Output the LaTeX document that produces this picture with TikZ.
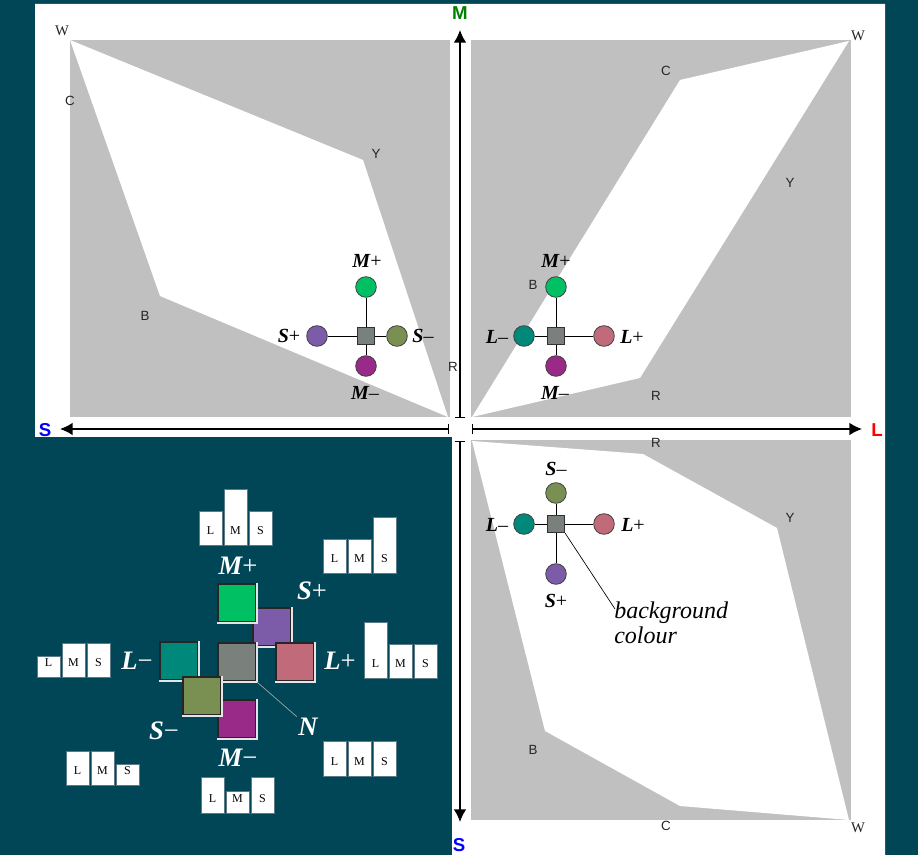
\documentclass[tikz,border=0pt]{standalone}
\usepackage{fontspec}
\setmainfont{Liberation Serif}
\setsansfont{Liberation Sans}
\usetikzlibrary{arrows.meta}
\definecolor{deepteal}{RGB}{0,70,86}
\definecolor{panelgray}{RGB}{192,192,192}
\definecolor{cMp}{RGB}{0,192,100}
\definecolor{cMm}{RGB}{153,42,136}
\definecolor{cSp}{RGB}{124,92,168}
\definecolor{cSm}{RGB}{122,144,82}
\definecolor{cLm}{RGB}{0,136,122}
\definecolor{cLp}{RGB}{192,106,122}
\definecolor{cN}{RGB}{122,128,124}
\definecolor{axisgreen}{RGB}{0,128,0}
\definecolor{barline}{RGB}{90,122,136}
\begin{document}
\begin{tikzpicture}[x=0.75pt,y=-0.75pt,
  axis/.style={line width=1.1pt,{Bar[width=8pt,line width=0.8pt]}-{Latex[length=9.5pt,width=9.5pt]}},
  axlab/.style={font=\sffamily\bfseries\fontsize{14}{16}\selectfont,inner sep=0pt},
  corner/.style={font=\sffamily\fontsize{10}{12}\selectfont,text=black!85,inner sep=0pt},
  dot/.style={circle,draw=black!75,line width=0.6pt,minimum size=15.5pt,inner sep=0pt},
  ctr/.style={rectangle,draw=black!80,line width=0.6pt,fill=cN,minimum size=13pt,inner sep=0pt},
  spoke/.style={line width=0.7pt},
  pole/.style={font=\fontsize{15}{17}\selectfont,inner sep=0pt},
  bigpole/.style={font=\fontsize{20}{22}\selectfont,text=white,inner sep=0pt},
  legsq/.style={rectangle,draw=black!85,line width=1.3pt,minimum size=29pt,inner sep=0pt},
  litedge/.style={draw=gray!20,line width=1.3pt},
  barbox/.style={fill=white,draw=barline,line width=0.6pt},
  bartext/.style={font=\fontsize{9}{10}\selectfont,inner sep=0pt}]
  \newcommand{\poleLab}[2]{{\bfseries\itshape #1}#2}
  \newcommand{\lmsBars}[6]{
    \foreach \c/\h [count=\i from 0] in {L/#4,M/#5,S/#6}{
      \filldraw[barbox] (#2+25*\i,#3) rectangle ++(23,-\h);
      \node[bartext] (#1\c) at (#2+25*\i+11.5,#3-14) {\c};
    }
  }
  \useasboundingbox (0,0) rectangle (918,855);
  \fill[deepteal] (0,0) rectangle (918,855);
  \fill[white] (35,4) -- (885,4) -- (885,855) -- (452,855) -- (452,437) -- (35,437) -- cycle;
  % panels
  \fill[panelgray] (70,40) rectangle (450,417);
  \fill[panelgray] (471,40) rectangle (851,417);
  \fill[panelgray] (471,440) rectangle (851,820);
  \fill[white] (70,40) -- (363,160) -- (448,417) -- (160,296) -- cycle;
  \fill[white] (849,41) -- (680,80) -- (472,417) -- (640,378) -- cycle;
  \fill[white] (472,441) -- (643,454) -- (777,528) -- (849,820) -- (680,806) -- (545,731) -- cycle;
  \node[corner,font=\fontsize{11}{12}\selectfont] (tlW) at (62,31) {W};
  \node[corner] (tlC) at (70,101) {C};
  \node[corner] (tlY) at (376,154) {Y};
  \node[corner] (tlB) at (145,316) {B};
  \node[corner] (tlR) at (453,367) {R};
  \node[corner,font=\fontsize{11}{12}\selectfont] (trW) at (858,36) {W};
  \node[corner] (trC) at (666,71) {C};
  \node[corner] (trY) at (790,183) {Y};
  \node[corner] (trB) at (533,285) {B};
  \node[corner] (trR) at (656,396) {R};
  \node[corner] (brR) at (656,443) {R};
  \node[corner] (brY) at (790,518) {Y};
  \node[corner] (brB) at (533,750) {B};
  \node[corner] (brC) at (666,826) {C};
  \node[corner,font=\fontsize{11}{12}\selectfont] (brW) at (858,828) {W};
  % axes
  \coordinate (upFoot) at (460,418);
  \coordinate (upTip) at (460,30);
  \coordinate (leftFoot) at (449,429);
  \coordinate (leftTip) at (60,429);
  \coordinate (rightFoot) at (472,429);
  \coordinate (rightTip) at (862,429);
  \coordinate (downFoot) at (460,441);
  \coordinate (downTip) at (460,822);
  \draw[axis] (upFoot) -- (upTip);
  \draw[axis] (leftFoot) -- (leftTip);
  \draw[axis] (rightFoot) -- (rightTip);
  \draw[axis] (downFoot) -- (downTip);
  \node[axlab,text=axisgreen] (mAx) at (460,13) {M};
  \node[axlab,text=blue] (sAxL) at (45,430) {S};
  \node[axlab,text=red] (lAx) at (877,430) {L};
  \node[axlab,text=blue] (sAxD) at (459,845) {S};
  % top-left cross
  \node[ctr] (tlN) at (366,336) {};
  \node[dot,fill=cMp] (tlMp) at (366,287) {};
  \node[dot,fill=cMm] (tlMm) at (366,366) {};
  \node[dot,fill=cSp] (tlSp) at (317,336) {};
  \node[dot,fill=cSm] (tlSm) at (397,336) {};
  \draw[spoke] (tlN) -- (tlMp) (tlN) -- (tlMm) (tlN) -- (tlSp) (tlN) -- (tlSm);
  \node[pole] (tlMpLab) at (367,261) {\poleLab{M}{+}};
  \node[pole] (tlMmLab) at (365,393) {\poleLab{M}{–}};
  \node[pole] (tlSpLab) at (289,336) {\poleLab{S}{+}};
  \node[pole] (tlSmLab) at (423,336) {\poleLab{S}{–}};
  % top-right cross
  \node[ctr] (trN) at (556,336) {};
  \node[dot,fill=cMp] (trMp) at (556,287) {};
  \node[dot,fill=cMm] (trMm) at (556,366) {};
  \node[dot,fill=cLm] (trLm) at (524,336) {};
  \node[dot,fill=cLp] (trLp) at (604,336) {};
  \draw[spoke] (trN) -- (trMp) (trN) -- (trMm) (trN) -- (trLm) (trN) -- (trLp);
  \node[pole] (trMpLab) at (556,261) {\poleLab{M}{+}};
  \node[pole] (trMmLab) at (555,393) {\poleLab{M}{–}};
  \node[pole] (trLmLab) at (497,337) {\poleLab{L}{–}};
  \node[pole] (trLpLab) at (632,337) {\poleLab{L}{+}};
  % bottom-right cross
  \node[ctr] (brN) at (556,524) {};
  \node[dot,fill=cSm] (brSm) at (556,493) {};
  \node[dot,fill=cSp] (brSp) at (556,574) {};
  \node[dot,fill=cLm] (brLm) at (524,524) {};
  \node[dot,fill=cLp] (brLp) at (604,524) {};
  \draw[spoke] (brN) -- (brSm) (brN) -- (brSp) (brN) -- (brLm) (brN) -- (brLp);
  \node[pole] (brSmLab) at (556,469) {\poleLab{S}{–}};
  \node[pole] (brSpLab) at (556,601) {\poleLab{S}{+}};
  \node[pole] (brLmLab) at (497,525) {\poleLab{L}{–}};
  \node[pole] (brLpLab) at (633,525) {\poleLab{L}{+}};
  \coordinate (bgTip) at (615,609);
  \draw[line width=0.5pt] (brN.south east) -- (bgTip);
  \node[anchor=base west,font=\itshape\fontsize{18}{19}\selectfont,inner sep=0pt] (bgNoteA) at (614,618) {background};
  \node[anchor=base west,font=\itshape\fontsize{18}{19}\selectfont,inner sep=0pt] (bgNoteB) at (614,643) {colour};
  % legend
  \foreach \nm/\col/\pos in {lgSp/cSp/{272,627},lgMp/cMp/{237,603},lgN/cN/{237,662},lgLp/cLp/{295,662},lgLm/cLm/{179,661},lgMm/cMm/{237,719},lgSm/cSm/{202,696}}{
    \node[legsq,fill=\col] (\nm) at (\pos) {};
    \draw[litedge] (\nm.north east) -- (\nm.south east) -- (\nm.south west);
  }
  \node[bigpole] (lgMpLab) at (238,566) {\poleLab{M}{+}};
  \node[bigpole] (lgSpLab) at (312,591) {\poleLab{S}{+}};
  \node[bigpole] (lgLpLab) at (340,661) {\poleLab{L}{+}};
  \node[bigpole] (lgLmLab) at (137,661) {\poleLab{L}{−}};
  \node[bigpole] (lgSmLab) at (164,731) {\poleLab{S}{−}};
  \node[bigpole] (lgMmLab) at (238,758) {\poleLab{M}{−}};
  \node[bigpole,inner sep=1pt] (lgNLab) at (308,727) {\poleLab{N}{}};
  \draw[gray!70,line width=0.5pt] (lgN.south east) -- (lgNLab.north west);
  \lmsBars{mpBar}{199}{545}{34}{56}{34}
  \lmsBars{spBar}{323}{573}{34}{34}{56}
  \lmsBars{lpBar}{364}{678}{56}{34}{34}
  \lmsBars{lmBar}{37}{677}{21}{34}{34}
  \lmsBars{smBar}{66}{785}{34}{34}{21}
  \lmsBars{mmBar}{201}{813}{36}{22}{36}
  \lmsBars{nBar}{323}{776}{35}{35}{35}
\end{tikzpicture}
\end{document}
